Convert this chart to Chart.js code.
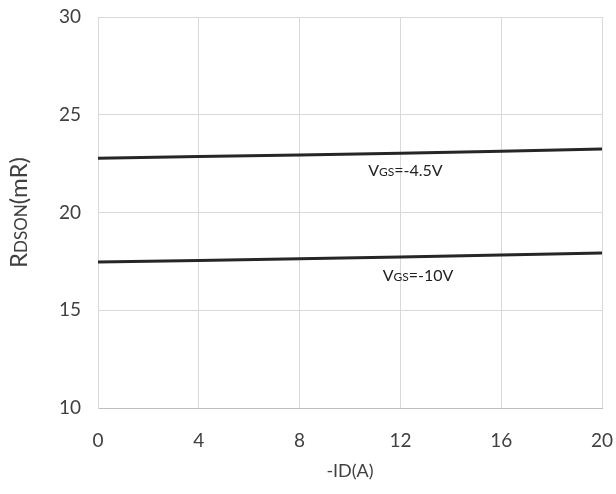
<!DOCTYPE html>
<html>
<head>
<meta charset="utf-8">
<script src="https://cdn.jsdelivr.net/npm/chart.js@4"></script>
<style>
  html, body { margin: 0; padding: 0; background: #fff; }
  #wrap { width: 616px; height: 494px; }
</style>
</head>
<body>
<div id="wrap"><canvas id="rdson-chart" width="616" height="494"></canvas></div>
<script>
// -ID (A) sample points
const currents = [0, 4, 8, 12, 16, 20];
// RDSON (mR)
const rdsonVgs45 = [22.78, 22.86, 22.94, 23.03, 23.13, 23.25];
const rdsonVgs10 = [17.47, 17.55, 17.63, 17.72, 17.82, 17.93];
// curve annotations: [main, subscript, rest], anchored at data x/y
const curveLabels = [
  { parts: ['V', 'GS', '=-4.5V'], x: 12.2, y: 22.15 },
  { parts: ['V', 'GS', '=-10V'], x: 12.7, y: 16.8 }
];
const xTicks = [0, 4, 8, 12, 16, 20];
const yTicks = [10, 15, 20, 25, 30];

const FONT = 'Lato, "Open Sans", sans-serif';
const TEXT_COLOR = '#404040';

// draw a string with a smaller middle part, centred at (cx, cy)
function drawMixed(ctx, parts, cx, cy, big, small) {
  const fonts = [big + 'px ' + FONT, small + 'px ' + FONT, big + 'px ' + FONT];
  let total = 0;
  const widths = parts.map((p, i) => { ctx.font = fonts[i]; const w = ctx.measureText(p).width; total += w; return w; });
  let x = cx - total / 2;
  ctx.textBaseline = 'alphabetic';
  ctx.textAlign = 'left';
  parts.forEach((p, i) => {
    ctx.font = fonts[i];
    ctx.fillText(p, x, cy + big * 0.35);
    x += widths[i];
  });
}

const annotationPlugin = {
  id: 'annotations',
  afterDraw(chart) {
    const ctx = chart.ctx;
    const xs = chart.scales.x, ys = chart.scales.y;
    ctx.save();
    ctx.fillStyle = '#222';
    curveLabels.forEach(l => {
      drawMixed(ctx, l.parts, xs.getPixelForValue(l.x), ys.getPixelForValue(l.y), 16, 12);
    });
    // axis titles
    ctx.fillStyle = TEXT_COLOR;
    drawMixed(ctx, ['-I', 'D', '(A)'], (xs.left + xs.right) / 2, 471, 18, 18);
    ctx.translate(19, (ys.top + ys.bottom) / 2);
    ctx.rotate(-Math.PI / 2);
    drawMixed(ctx, ['R', 'DSON', '(mR)'], 0, 0, 24, 17);
    ctx.restore();
  }
};

new Chart(document.getElementById('rdson-chart').getContext('2d'), {
  type: 'line',
  data: {
    datasets: [
      {
        label: 'VGS=-4.5V',
        data: currents.map((x, i) => ({ x, y: rdsonVgs45[i] })),
        borderColor: '#262626',
        borderWidth: 3,
        pointRadius: 0,
        tension: 0
      },
      {
        label: 'VGS=-10V',
        data: currents.map((x, i) => ({ x, y: rdsonVgs10[i] })),
        borderColor: '#262626',
        borderWidth: 3,
        pointRadius: 0,
        tension: 0
      }
    ]
  },
  options: {
    responsive: false,
    animation: false,
    layout: { padding: { top: 17, right: 14, left: 0, bottom: 0 } },
    plugins: { legend: { display: false }, tooltip: { enabled: false } },
    scales: {
      x: {
        type: 'linear',
        min: 0,
        max: 20,
        afterBuildTicks: scale => { scale.ticks = xTicks.map(v => ({ value: v })); },
        afterFit: scale => { scale.height = 86; scale.paddingLeft = 0; scale.paddingRight = 0; },
        grid: { color: '#d9d9d9', drawTicks: false, lineWidth: 1 },
        border: { color: '#bfbfbf' },
        ticks: { color: TEXT_COLOR, font: { family: FONT, size: 19 }, padding: 21, maxRotation: 0 }
      },
      y: {
        type: 'linear',
        min: 10,
        max: 30,
        afterBuildTicks: scale => { scale.ticks = yTicks.map(v => ({ value: v })); },
        afterFit: scale => { scale.width = 98; scale.paddingTop = 0; scale.paddingBottom = 0; },
        grid: { color: '#d9d9d9', drawTicks: false, lineWidth: 1 },
        border: { color: '#d9d9d9' },
        ticks: { color: TEXT_COLOR, font: { family: FONT, size: 19 }, padding: 17 }
      }
    }
  },
  plugins: [annotationPlugin]
});
</script>
</body>
</html>
